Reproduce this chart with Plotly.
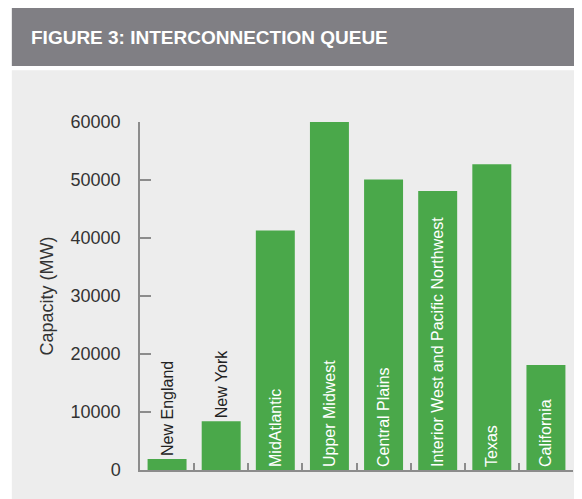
import plotly.graph_objects as go

# Interconnection queue by region (MW)
REGIONS = [
    "New England", "New York", "MidAtlantic", "Upper Midwest",
    "Central Plains", "Interior West and Pacific Northwest", "Texas", "California",
]
CAPACITY_MW = [1900, 8400, 41300, 60000, 50100, 48100, 52700, 18100]
Y_TICKS = [0, 10000, 20000, 30000, 40000, 50000, 60000]
Y_TICK_TEXT = [str(v) for v in Y_TICKS]

GREEN = "#4aa84a"
HEADER = "#807f84"
PANEL = "#ededed"
AXIS = "#8c8c8c"
FONT = "Liberation Sans, Arial, sans-serif"

# the two short bars carry their label above, the rest inside from the base
positions = ["outside", "outside"] + ["inside"] * (len(REGIONS) - 2)

fig = go.Figure(
    go.Bar(
        x=REGIONS,
        y=CAPACITY_MW,
        marker_color=GREEN,
        marker_line_width=0,
        text=REGIONS,
        textposition=positions,
        textangle=-90,
        insidetextanchor="start",
        constraintext="none",
        insidetextfont=dict(color="white", size=16, family=FONT),
        outsidetextfont=dict(color="#222222", size=16, family=FONT),
        cliponaxis=False,
        hoverinfo="x+y",
    )
)

# page body has an 8px margin, so offsets are shifted to land where the original sits
fig.update_layout(
    width=582,
    height=499,
    margin=dict(l=132, r=17, t=114, b=37),
    paper_bgcolor="white",
    plot_bgcolor=PANEL,
    bargap=0.28,
    showlegend=False,
    font=dict(family=FONT, color="#333333"),
    shapes=[
        # light panel behind the chart
        dict(type="rect", xref="paper", yref="paper", x0=-0.296, x1=1.05, y0=-0.2, y1=1.149,
             fillcolor=PANEL, line_width=0, layer="below"),
        # header band
        dict(type="rect", xref="paper", yref="paper", x0=-0.296, x1=1.05, y0=1.161, y1=1.33,
             fillcolor=HEADER, line_width=0, layer="below"),
    ],
    annotations=[
        dict(text="<b>FIGURE 3: INTERCONNECTION QUEUE</b>", xref="paper", yref="paper",
             x=(29 - 140) / 433, y=(470 - 38) / 348, xanchor="left", yanchor="middle",
             showarrow=False, font=dict(color="white", size=19, family=FONT)),
    ],
)

fig.update_xaxes(
    showticklabels=False,
    tickson="boundaries",
    ticks="inside",
    ticklen=7,
    tickwidth=1.5,
    tickcolor=AXIS,
    showline=True,
    linecolor=AXIS,
    linewidth=2,
    showgrid=False,
)
fig.update_yaxes(
    range=[0, 60000],
    tickvals=Y_TICKS,
    ticktext=Y_TICK_TEXT,
    ticks="inside",
    ticklen=11,
    tickwidth=1.5,
    tickcolor=AXIS,
    ticklabelstandoff=14,
    tickfont=dict(size=18, color="#333333"),
    showline=True,
    linecolor=AXIS,
    linewidth=1.5,
    showgrid=False,
    zeroline=False,
    title=dict(text="Capacity (MW)", font=dict(size=18, color="#333333"), standoff=12),
)

fig.write_html("out.html")
